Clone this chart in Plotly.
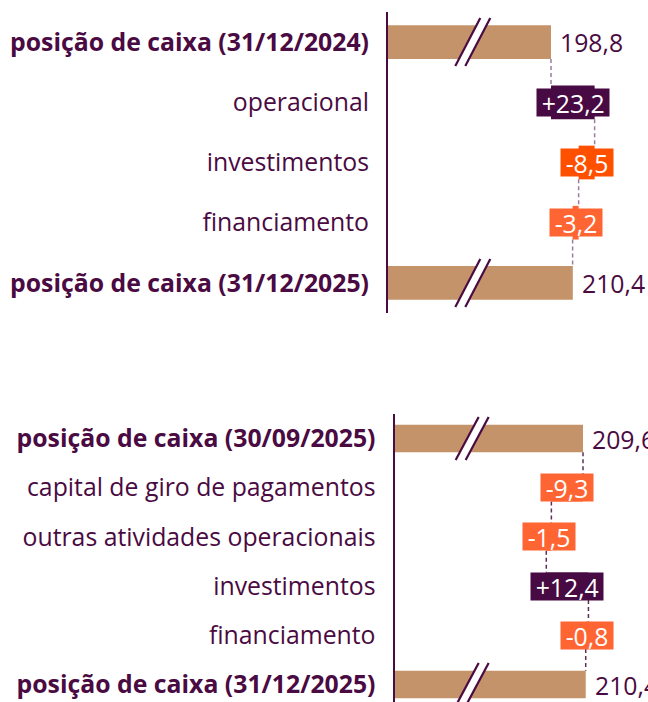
import plotly.graph_objects as go

# ---------------- data ----------------
top_labels = ["posição de caixa (31/12/2024)", "operacional", "investimentos",
              "financiamento", "posição de caixa (31/12/2025)"]
top_start = 198.8
top_deltas = [23.2, -8.5, -3.2]
top_end = 210.4

bot_labels = ["posição de caixa (30/09/2025)", "capital de giro de pagamentos",
              "outras atividades operacionais", "investimentos", "financiamento",
              "posição de caixa (31/12/2025)"]
bot_start = 209.6
bot_deltas = [-9.3, -1.5, 12.4, -0.8]
bot_end = 210.4

subtitle = "(R$ bilhões, em 2025)"

# ---------------- style ----------------
FONT = "Open Sans"
TXT = "#4a0a42"
TAN = "#c4936a"
POS = "#470a42"
NEG = "#ff6433"
NEG_STRONG = "#ff5000"
W = 648
H = 702
FS = 24.8
BARW = 0.56

CHAR_W = {"+": 0.572, "-": 0.322, ",": 0.27}


def fmt(v, sign=False):
    s = f"{abs(v):.1f}".replace(".", ",")
    if sign:
        return ("+" if v >= 0 else "-") + s
    return s


def box_width(txt):
    return sum(CHAR_W.get(ch, 0.572) for ch in txt) * FS + 9


fig = go.Figure()
annotations = []
shapes = []


def panel(xa, ya, labels, start, deltas, end, neg_colors, dash_color, brk_val,
          brk_half_h, brk_half_shift):
    n = len(labels)
    xref = xa
    yref = ya
    # totals
    fig.add_trace(go.Bar(
        orientation="h", y=[0, n - 1], x=[start, end],
        marker=dict(color=TAN, line=dict(width=0)), width=BARW,
        xaxis=xa, yaxis=ya, showlegend=False, hoverinfo="skip"))
    for yi, v in [(0, start), (n - 1, end)]:
        annotations.append(dict(
            x=v, y=yi, xref=xref, yref=yref, text=fmt(v), showarrow=False,
            xanchor="left", yanchor="middle", xshift=7,
            font=dict(family=FONT, size=FS, color=TXT)))
    # deltas
    run = start
    bases, xs, cols = [], [], []
    for i, d in enumerate(deltas):
        c = POS if d >= 0 else neg_colors[i]
        bases.append(run)
        xs.append(d)
        cols.append(c)
        t = fmt(d, True)
        annotations.append(dict(
            x=run + d / 2, y=i + 1, xref=xref, yref=yref, text=t,
            showarrow=False, xanchor="center", yanchor="middle",
            bgcolor=c, borderpad=0, width=box_width(t), height=27,
            align="center", valign="middle",
            font=dict(family=FONT, size=FS, color="white")))
        run += d
    fig.add_trace(go.Bar(
        orientation="h", y=list(range(1, n - 1)), x=xs, base=bases,
        marker=dict(color=cols, line=dict(width=0)), width=BARW,
        xaxis=xa, yaxis=ya, showlegend=False, hoverinfo="skip"))
    # connectors
    run = start
    for i in range(n - 1):
        shapes.append(dict(
            type="line", xref=xref, yref=yref, x0=run, x1=run,
            y0=i + BARW / 2, y1=i + 1 - BARW / 2,
            line=dict(color=dash_color, width=1.5, dash="4px,3px"), layer="below"))
        if i < len(deltas):
            run += deltas[i]
    # axis break marks on total bars
    for yi in [0, n - 1]:
        g = 5
        hh = brk_half_h
        hs = brk_half_shift
        poly = (f"M {-g - hs},{-hh} L {-g + hs},{hh} L {g + hs},{hh} "
                f"L {g - hs},{-hh} Z")
        shapes.append(dict(
            type="path", xref=xref, yref=yref, xsizemode="pixel",
            ysizemode="pixel", xanchor=brk_val, yanchor=yi, path=poly,
            fillcolor="white", line=dict(width=0), layer="above"))
        for sgn in (-1, 1):
            ln = f"M {sgn * g - hs},{-hh} L {sgn * g + hs},{hh}"
            shapes.append(dict(
                type="path", xref=xref, yref=yref, xsizemode="pixel",
                ysizemode="pixel", xanchor=brk_val, yanchor=yi, path=ln,
                line=dict(color=TXT, width=2.2), layer="above"))


panel("x", "y", top_labels, top_start, top_deltas, top_end,
      [POS, NEG_STRONG, NEG], "#9a7d9c", 157.2, 24, 12.5)
panel("x2", "y2", bot_labels, bot_start, bot_deltas, bot_end,
      [NEG, NEG, POS, NEG], "#5e2d58", 177.0, 21.5, 11.5)

annotations.append(dict(
    x=23 / W, y=1, xref="paper", yref="paper", text=subtitle, showarrow=False,
    xanchor="left", yanchor="bottom", yshift=-5,
    font=dict(family=FONT, size=FS - 1, color=TXT)))


def ticktext(labels):
    out = []
    for i, l in enumerate(labels):
        out.append(f"<b>{l}</b>" if i in (0, len(labels) - 1) else l)
    return out


top_px0, top_px_per = 388, 1.88
bot_px0, bot_px_per = 394.5, 3.4
top_v0 = top_start - (551 - top_px0) / top_px_per
bot_v0 = bot_start - (583 - bot_px0) / bot_px_per

fig.update_layout(
    width=W, height=H, margin=dict(l=0, r=0, t=0, b=0, autoexpand=False),
    paper_bgcolor="white", plot_bgcolor="white", barmode="overlay",
    font=dict(family=FONT, color=TXT, size=FS),
    xaxis=dict(domain=[top_px0 / W, 1], range=[top_v0, top_v0 + (W - top_px0) / top_px_per],
               visible=False, anchor="y", automargin=False),
    yaxis=dict(domain=[1 - 313 / H, 1 - 12 / H], range=[4.5, -0.5], anchor="x",
               tickvals=list(range(len(top_labels))), ticktext=ticktext(top_labels),
               showline=True, linecolor=TXT, linewidth=2, showgrid=False,
               zeroline=False, ticks="", ticklabelstandoff=12, automargin=False,
               tickfont=dict(family=FONT, size=FS, color=TXT)),
    xaxis2=dict(domain=[bot_px0 / W, 1], range=[bot_v0, bot_v0 + (W - bot_px0) / bot_px_per],
                visible=False, anchor="y2", automargin=False),
    yaxis2=dict(domain=[0, 1 - 414 / H], range=[5.355, -0.5], anchor="x2",
                tickvals=list(range(len(bot_labels))), ticktext=ticktext(bot_labels),
                showline=True, linecolor=TXT, linewidth=2, showgrid=False,
                zeroline=False, ticks="", ticklabelstandoff=12, automargin=False,
                tickfont=dict(family=FONT, size=FS, color=TXT)),
    annotations=annotations, shapes=shapes,
)

fig.write_html("out.html", config={"displayModeBar": False},
               post_script="document.body.style.margin='0';")
